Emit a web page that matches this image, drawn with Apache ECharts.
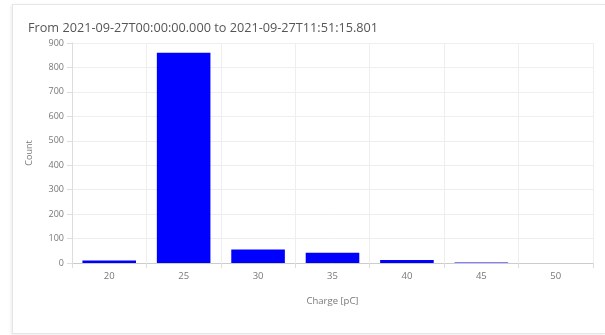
<!DOCTYPE html>
<html>
<head>
<meta charset="utf-8">
<script src="https://cdn.jsdelivr.net/npm/echarts@6/dist/echarts.min.js"></script>
<style>
  html, body { margin: 0; padding: 0; background: #fff; width: 605px; height: 335px; overflow: hidden; }
  #card { position: absolute; left: 12px; top: 4px; width: 592px; height: 328px; border: 1px solid #e6e6e6; border-right: none; box-shadow: -1px 1px 3px rgba(0,0,0,0.08); }
  #chart { position: absolute; left: 0; top: 0; width: 605px; height: 335px; }
</style>
</head>
<body>
<div id="card"></div>
<div id="chart"></div>
<script>
const titleText = 'From 2021-09-27T00:00:00.000 to 2021-09-27T11:51:15.801';
const categories = ['20', '25', '30', '35', '40', '45', '50'];
const counts = [10, 860, 55, 42, 12, 2, 0];
const xName = 'Charge [pC]';
const yName = 'Count';

const chart = echarts.init(document.getElementById('chart'), null, { renderer: 'canvas' });
const font = '"Open Sans", "Noto Sans", sans-serif';
chart.setOption({
  animation: false,
  backgroundColor: 'transparent',
  textStyle: { fontFamily: font },
  title: {
    text: titleText,
    left: 23,
    top: 17,
    textStyle: { fontSize: 12.7, fontWeight: 'normal', color: '#555', fontFamily: font }
  },
  grid: { left: 72, right: 12, top: 43, bottom: 72, containLabel: false },
  xAxis: {
    type: 'category',
    data: categories,
    boundaryGap: true,
    name: xName,
    nameLocation: 'middle',
    nameGap: 33,
    nameTextStyle: { fontSize: 9.5, color: '#777' },
    axisLine: { show: true, lineStyle: { color: '#ccc' } },
    axisTick: { show: true, alignWithLabel: false, length: 5, lineStyle: { color: '#ddd' } },
    axisLabel: { fontSize: 9.5, color: '#777', margin: 8 },
    splitLine: { show: true, lineStyle: { color: '#eee' } }
  },
  yAxis: {
    type: 'value',
    min: 0,
    max: 900,
    interval: 100,
    name: yName,
    nameLocation: 'middle',
    nameGap: 38,
    nameTextStyle: { fontSize: 9, color: '#777' },
    axisLine: { show: true, lineStyle: { color: '#ddd' } },
    axisTick: { show: true, length: 5, lineStyle: { color: '#ddd' } },
    axisLabel: { fontSize: 9, color: '#777', margin: 8 },
    splitLine: { show: true, lineStyle: { color: '#eee' } }
  },
  series: [{
    type: 'bar',
    data: counts,
    barWidth: '72%',
    itemStyle: { color: '#0000ff' }
  }]
});
</script>
</body>
</html>
